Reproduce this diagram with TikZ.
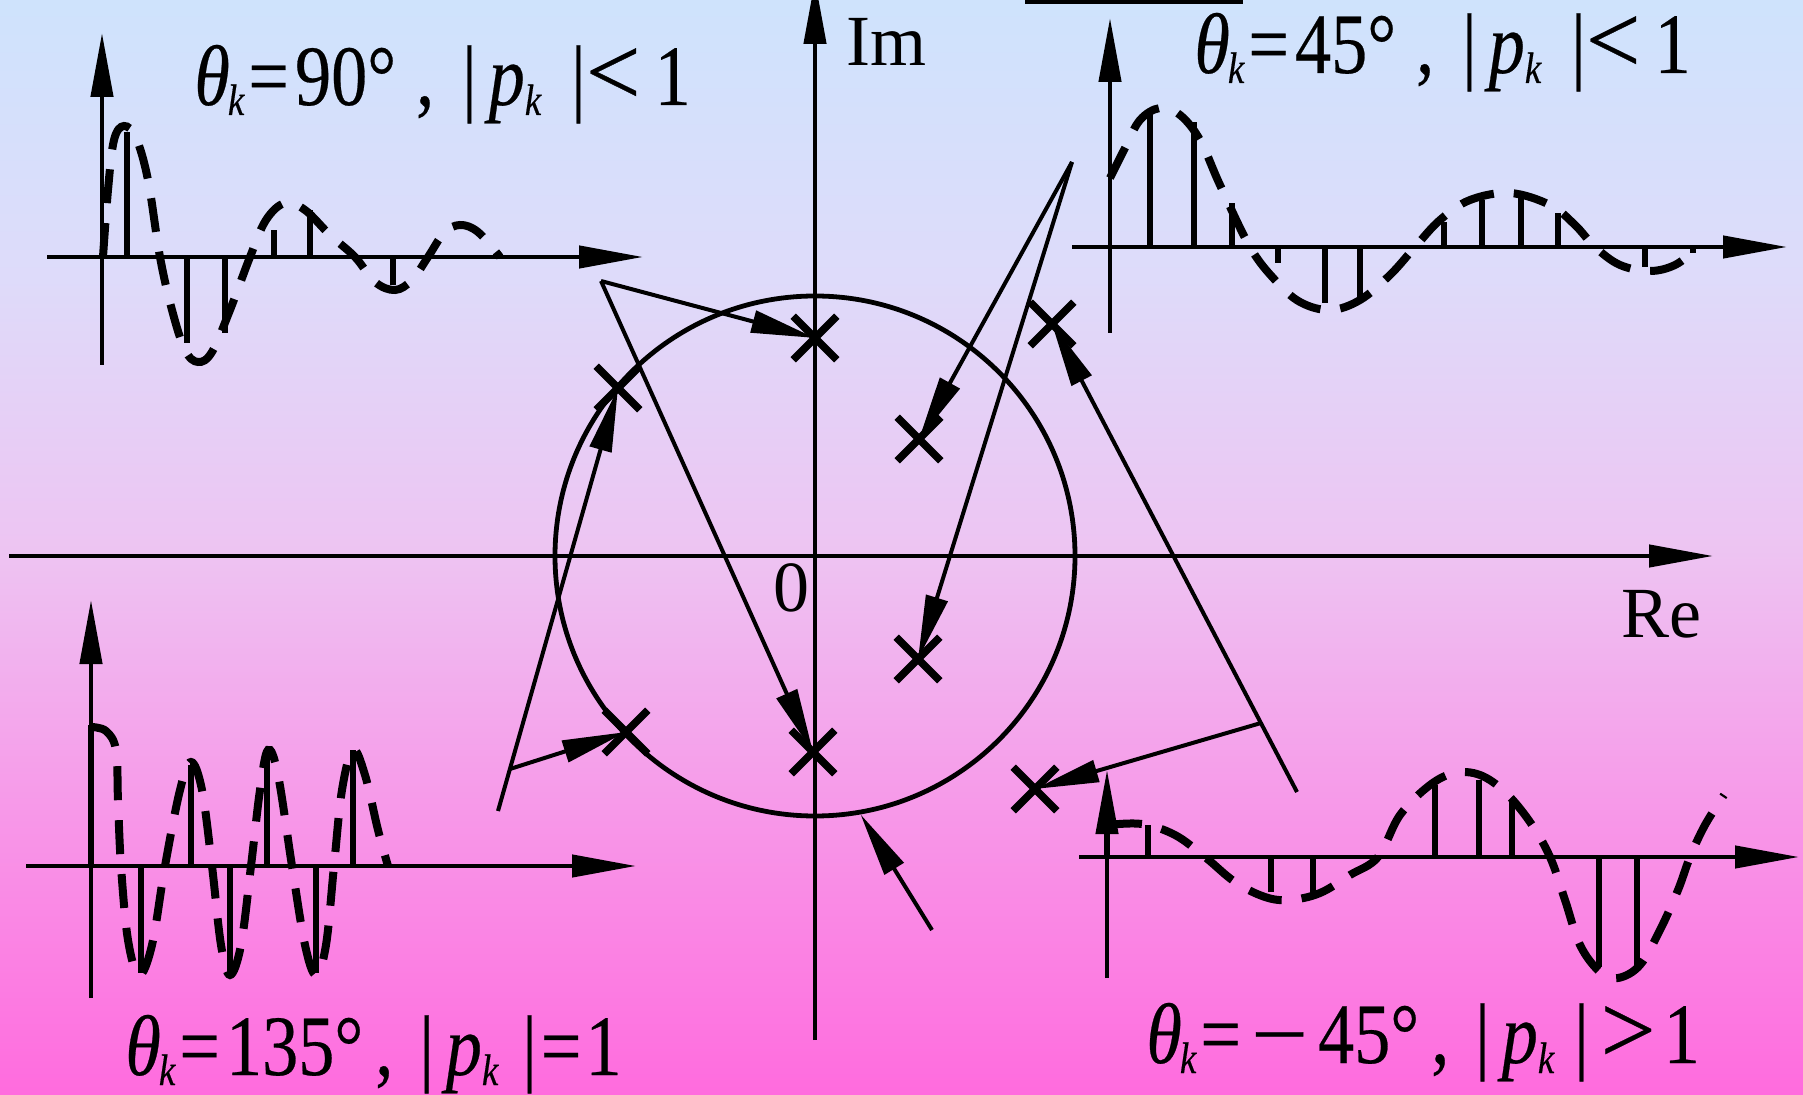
\documentclass[tikz,border=0pt]{standalone}
\usepackage{fontspec}
\usepackage{graphicx}
\setmainfont{Liberation Serif}
\newfontfamily\lblfont[FakeStretch=0.84,FakeBold=0.3]{Liberation Serif}
\usetikzlibrary{arrows.meta,shapes.misc}

\pgfdeclareverticalshading{bgshade}{100bp}{rgb(0bp)=(1,0.42,0.87); rgb(25bp)=(1,0.42,0.87); rgb(37.5bp)=(0.97,0.59,0.91); rgb(50bp)=(0.93,0.77,0.95); rgb(62.5bp)=(0.87,0.86,0.98); rgb(75bp)=(0.81,0.89,0.99); rgb(100bp)=(0.81,0.89,0.99)}

\newcommand{\thk}{{\itshape θ}\kern-1pt\raisebox{-5pt}{\fontsize{22}{22}\selectfont\itshape k}}
\newcommand{\pk}{{\itshape p}\raisebox{-5pt}{\fontsize{22}{22}\selectfont\itshape k}}
\newcommand{\lt}{\scalebox{1.35}[1.15]{<}}
\newcommand{\gt}{\scalebox{1.35}[1.15]{>}}

\begin{document}
\begin{tikzpicture}[x=0.5pt, y=-0.5pt,
  axis/.style={line width=2.2pt, -{Triangle[length=32pt,width=11pt]}},
  stem/.style={line width=3.2pt},
  env/.style={line width=4pt, dash pattern=on 17pt off 10pt},
  ptr/.style={line width=2pt, -{Triangle[length=32pt,width=11pt]}},
  pole/.style={cross out, draw, line width=3.8pt, minimum size=18pt, inner sep=0pt},
  lbl/.style={inner sep=0pt, anchor=base west, font=\lblfont\fontsize{43}{50}\selectfont},
  axlbl/.style={inner sep=0pt, font=\fontsize{36}{40}\selectfont}]

\useasboundingbox (0,0) rectangle (1803,1095);
\clip (0,0) rectangle (1803,1095);
\fill[shading=bgshade] (0,0) rectangle (1803,1095);
\draw[line width=3pt] (1025,1) -- (1243,1);

% z plane
\draw[axis] (9,556) -- (1713,556);
\draw[axis] (815,1040) -- (815,-20);
\node[draw, circle, line width=2.4pt, minimum size=260pt, inner sep=0pt] (uc) at (815,556) {};
\node[axlbl, anchor=base west] (im) at (846,66) {Im};
\node[axlbl, anchor=base west] (re) at (1621,638) {Re};
\node[axlbl, anchor=base east] (org) at (810,612) {0};

% poles
\node[pole] (p90a) at (815,338) {};
\node[pole] (p90b) at (813,752) {};
\node[pole] (p45a) at (919,439) {};
\node[pole] (p45b) at (918,659) {};
\node[pole] (p135a) at (618,388) {};
\node[pole] (p135b) at (626,732) {};
\node[pole] (pm45a) at (1052,324) {};
\node[pole] (pm45b) at (1035,789) {};

% pointers
\coordinate (v90) at (601,281);
\draw[ptr] (v90) -- (p90a.center);
\draw[ptr] (v90) -- (p90b.center);
\coordinate (v45) at (1072,162);
\draw[ptr] (v45) -- (p45a.center);
\draw[ptr] (v45) -- (p45b.center);
\coordinate (t135) at (498,811);
\coordinate (v135) at (510,769);
\draw[ptr] (t135) -- (p135a.center);
\draw[ptr] (v135) -- (p135b.center);
\coordinate (tm45) at (1297,792);
\coordinate (vm45) at (1261,723);
\draw[ptr] (tm45) -- (pm45a.center);
\draw[ptr] (vm45) -- (pm45b.center);
\coordinate (tuc) at (932,930);
\draw[ptr] (tuc) -- (uc.-80);

% theta 90
\draw[axis] (102,365) -- (102,33);
\draw[axis] (47,257) -- (643,257);
\foreach \x/\y in {127/132, 187/343, 225/333, 274/230, 310/210, 393/285}
  \draw[stem] (\x,257) -- (\x,\y);
\draw[env] plot[smooth, tension=0.6] coordinates {(103,257) (108,190) (114,140) (124,126) (136,138) (148,180) (160,257) (172,310) (185,350) (198,362) (212,352) (230,310) (250,257) (266,220) (285,203) (305,210) (330,235) (355,257) (375,282) (395,290) (412,280) (428,257) (444,233) (460,225) (478,232) (500,257)};
\node[lbl] (l90) at (194,105) {\thk\hspace{2pt}=\hspace{3pt}90°\hspace{10pt},\hspace{14pt}|\hspace{6pt}\pk\hspace{15pt}|\lt\hspace{7pt}1};

% theta 45
\draw[axis] (1110,333) -- (1110,18);
\draw[axis] (1072,247) -- (1787,247);
\foreach \x/\y in {1150/113, 1194/122, 1232/203, 1278/263, 1325/303, 1360/302, 1444/222, 1482/200, 1521/197, 1558/213, 1645/267, 1693/253}
  \draw[stem] (\x,247) -- (\x,\y);
\draw[env] plot[smooth, tension=0.6] coordinates {(1110,178) (1125,148) (1140,120) (1160,108) (1180,115) (1200,140) (1220,185) (1250,247) (1275,280) (1300,302) (1330,310) (1360,300) (1390,275) (1415,247) (1440,220) (1470,200) (1510,193) (1550,205) (1575,225) (1595,247) (1620,265) (1650,271) (1675,265) (1695,250)};
\node[lbl] (l45) at (1194,73) {\thk\hspace{2pt}=\hspace{3pt}45°\hspace{10pt},\hspace{14pt}|\hspace{6pt}\pk\hspace{15pt}|\lt\hspace{7pt}1};

% theta 135
\draw[axis] (91,998) -- (91,600);
\draw[axis] (26,866) -- (636,866);
\foreach \x/\y in {91/725, 141/973, 191/765, 230/973, 267/750, 316/973, 353/750}
  \draw[stem] (\x,866) -- (\x,\y);
\draw[env] plot[smooth, tension=0.6] coordinates {(91,727) (106,731) (116,750) (118,800) (121,866) (128,940) (139,975) (152,945) (165,866) (180,790) (191,762) (202,790) (212,866) (221,945) (230,975) (241,945) (251,866) (260,790) (268,750) (278,775) (292,866) (305,945) (316,975) (326,945) (334,866) (342,790) (353,750) (365,775) (378,830) (388,866)};
\node[lbl] (l135) at (125,1075) {\thk\hspace{2pt}=\hspace{3pt}135°\hspace{6pt},\hspace{13pt}|\hspace{6pt}\pk\hspace{12pt}|\hspace{2pt}=\hspace{2pt}1};

% theta -45
\draw[axis] (1107,978) -- (1107,770);
\draw[axis] (1079,857) -- (1799,857);
\foreach \x/\y in {1107/825, 1148/825, 1271/892, 1313/897, 1435/785, 1479/780, 1512/800, 1599/967, 1637/965}
  \draw[stem] (\x,857) -- (\x,\y);
\draw[env] plot[smooth, tension=0.6] coordinates {(1108,825) (1142,824) (1175,835) (1205,857) (1235,882) (1265,897) (1290,900) (1320,893) (1350,875) (1378,857) (1400,815) (1430,785) (1455,773) (1480,775) (1505,792) (1530,822) (1550,857) (1565,900) (1580,945) (1600,972) (1618,978) (1640,965) (1660,930) (1678,890) (1690,857) (1705,825) (1724,795)};
\node[lbl] (lm45) at (1146,1063) {\thk\hspace{2pt}=\hspace{5pt}\scalebox{1.4}[1]{−}\hspace{5pt}45°\hspace{6pt},\hspace{13pt}|\hspace{6pt}\pk\hspace{10pt}|\hspace{6pt}\gt\hspace{4pt}1};
\end{tikzpicture}
\end{document}
